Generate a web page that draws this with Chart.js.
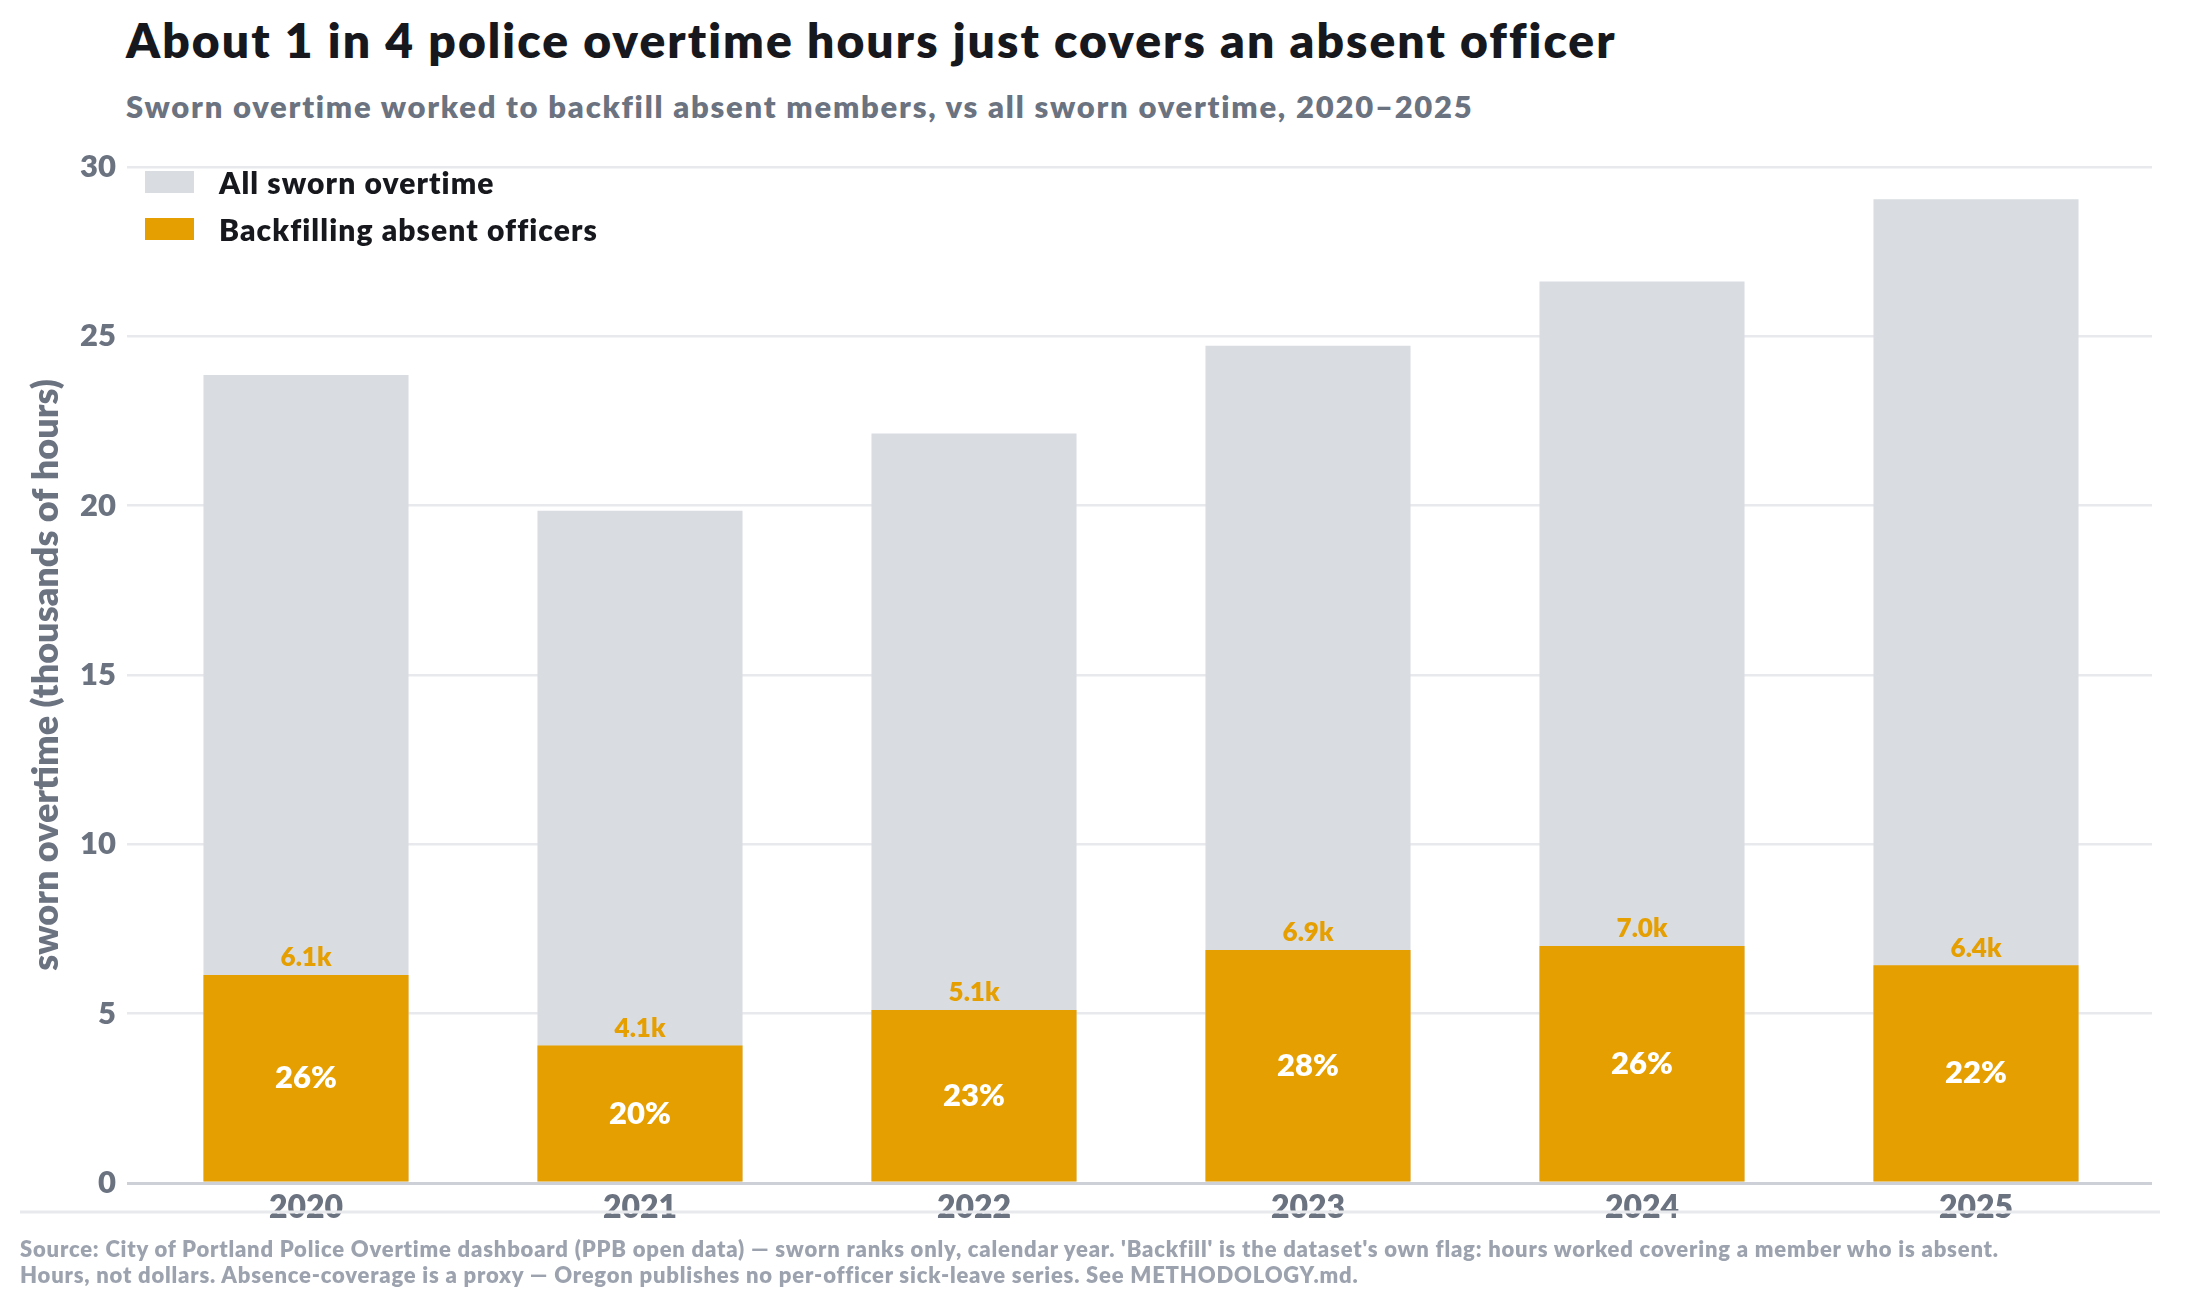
<!DOCTYPE html>
<html>
<head>
<meta charset="utf-8">
<script src="https://cdn.jsdelivr.net/npm/chart.js@4.4.1/dist/chart.umd.min.js"></script>
<style>
  html, body { margin: 0; padding: 0; background: #fff; }
  body { width: 2187px; height: 1306px; position: relative; overflow: hidden; font-family: Lato, "Noto Sans", sans-serif; }
  #myChart { position: absolute; left: 0; top: 0; }
  .title { position: absolute; left: 126px; top: 16px; font-size: 48px; line-height: 48px; font-weight: 800; letter-spacing: 2.05px; color: #16181d; white-space: nowrap; }
  .subtitle { position: absolute; left: 126px; top: 91px; font-size: 31px; line-height: 31px; font-weight: 800; letter-spacing: 1.75px; color: #6b7280; white-space: nowrap; }
  #legend { position: absolute; left: 145px; top: 158px; }
  .legend-row { display: flex; align-items: center; height: 47px; font-size: 30px; font-weight: 800; letter-spacing: 1.1px; color: #16181d; white-space: nowrap; }
  .legend-box { width: 49px; height: 22px; margin-right: 25px; }
  .footer { position: absolute; left: 20px; top: 1236px; font-size: 22px; line-height: 26px; font-weight: 800; letter-spacing: 0.8px; color: #9ca3af; white-space: nowrap; }
</style>
</head>
<body>
<div class="title">About 1 in 4 police overtime hours just covers an absent officer</div>
<div class="subtitle">Sworn overtime worked to backfill absent members, vs all sworn overtime, 2020–2025</div>
<canvas id="myChart" width="2187" height="1306"></canvas>
<div id="legend"></div>
<div class="footer">Source: City of Portland Police Overtime dashboard (PPB open data) — sworn ranks only, calendar year. 'Backfill' is the dataset's own flag: hours worked covering a member who is absent.<br>Hours, not dollars. Absence-coverage is a proxy — Oregon publishes no per-officer sick-leave series. See METHODOLOGY.md.</div>
<script>
const ctx = document.getElementById('myChart');

// thousands of hours
let years = ['2020', '2021', '2022', '2023', '2024', '2025'];
let allOvertime = [23.86, 19.85, 22.13, 24.72, 26.62, 29.05];
let backfill = [6.14, 4.06, 5.11, 6.88, 7.0, 6.43];
let yTicks = [0, 5, 10, 15, 20, 25, 30];

const grey = '#D9DCE1';
const orange = '#E69F00';

const data = {
    labels: years,
    datasets: [
        {
            label: 'All sworn overtime',
            data: allOvertime,
            backgroundColor: grey,
            order: 2
        }, {
            label: 'Backfilling absent officers',
            data: backfill,
            backgroundColor: orange,
            order: 1
        }
    ]
};

function gridColor(c) {
    return c.tick && c.tick.value === 0 ? '#CDD1D7' : '#E8E9ED';
}
function gridWidth(c) {
    return c.tick && c.tick.value === 0 ? 3 : 2.5;
}

const barLabels = {
    id: 'barLabels',
    beforeInit(chart) {
        // slightly spaced canvas text, closer to the original face
        chart.ctx.letterSpacing = '1px';
    },
    afterDatasetsDraw(chart) {
        const meta = chart.getDatasetMeta(1);
        const c = chart.ctx;
        c.save();
        c.textAlign = 'center';
        meta.data.forEach((bar, i) => {
            c.fillStyle = orange;
            c.font = '800 26px Lato';
            c.textBaseline = 'bottom';
            c.fillText(backfill[i].toFixed(1) + 'k', bar.x, bar.y - 4);
            c.fillStyle = '#ffffff';
            c.font = '800 31px Lato';
            c.textBaseline = 'middle';
            let pct = Math.round(backfill[i] / allOvertime[i] * 100);
            c.fillText(pct + '%', bar.x, (bar.y + bar.base) / 2);
        });
        c.restore();
    },
    afterDraw(chart) {
        // rule under the year labels
        const c = chart.ctx;
        c.save();
        c.strokeStyle = '#E8E9ED';
        c.lineWidth = 3;
        c.beginPath();
        c.moveTo(20, chart.chartArea.bottom + 29);
        c.lineTo(2160, chart.chartArea.bottom + 29);
        c.stroke();
        c.restore();
    }
};

const visibleChart = new Chart(ctx, {
    type: 'bar',
    data: data,
    plugins: [barLabels],
    options: {
        responsive: false,
        animation: false,
        layout: { padding: { top: 167, left: 0, right: 35, bottom: 73 } },
        datasets: {
            bar: { grouped: false, barPercentage: 0.614, categoryPercentage: 1 }
        },
        plugins: {
            legend: { display: false },
            tooltip: { enabled: false }
        },
        scales: {
            x: {
                grid: { display: false, drawTicks: false },
                border: { display: false },
                ticks: {
                    color: '#6b7280',
                    font: { family: 'Lato', size: 32, weight: '800' },
                    padding: 5
                },
                afterFit(scale) { scale.height = 50; }
            },
            y: {
                min: 0,
                max: 30,
                afterBuildTicks(scale) { scale.ticks = yTicks.map(v => ({ value: v })); },
                grid: { color: gridColor, lineWidth: gridWidth, tickLength: 12 },
                border: { display: false },
                ticks: {
                    color: '#6b7280',
                    font: { family: 'Lato', size: 31, weight: '800' },
                    padding: 11
                },
                title: {
                    display: true,
                    text: 'sworn overtime (thousands of hours)',
                    color: '#6b7280',
                    font: { family: 'Lato', size: 36, weight: '800' },
                    padding: { top: 25, bottom: 0 }
                },
                afterFit(scale) { scale.width = 139; }
            },
            y2: {
                position: 'right',
                min: 0,
                max: 30,
                afterBuildTicks(scale) { scale.ticks = yTicks.map(v => ({ value: v })); },
                grid: { color: gridColor, lineWidth: gridWidth, drawOnChartArea: false, tickLength: 9 },
                border: { display: false },
                ticks: { display: false },
                afterFit(scale) { scale.width = 9; }
            }
        }
    }
});

// legend built from the datasets
const legend = document.getElementById('legend');
data.datasets.forEach(ds => {
    const row = document.createElement('div');
    row.className = 'legend-row';
    const box = document.createElement('span');
    box.className = 'legend-box';
    box.style.background = ds.backgroundColor;
    row.appendChild(box);
    row.appendChild(document.createTextNode(ds.label));
    legend.appendChild(row);
});
</script>
</body>
</html>
